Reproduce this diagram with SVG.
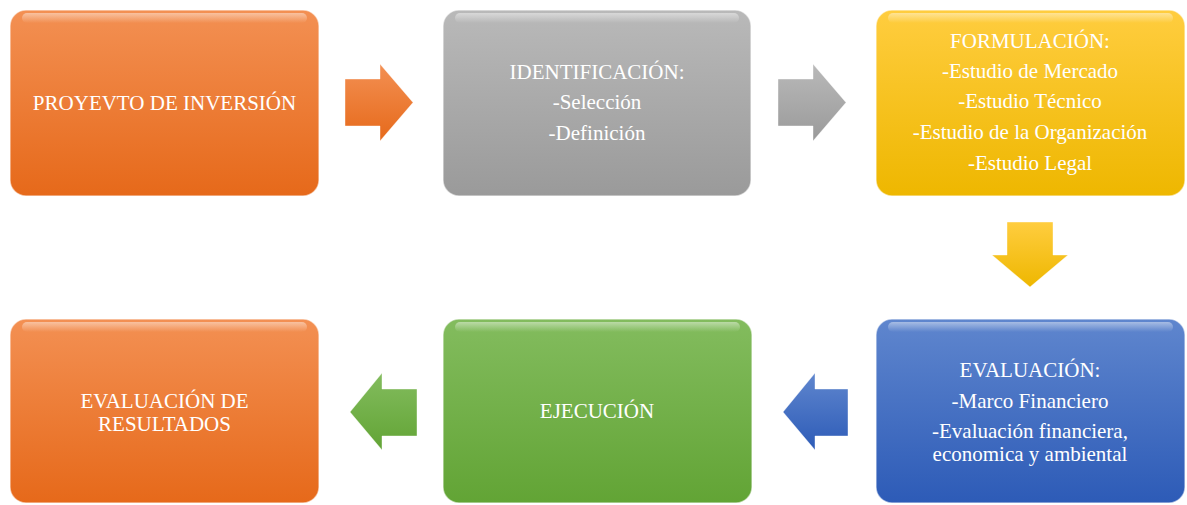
<svg xmlns="http://www.w3.org/2000/svg" width="1187" height="505" viewBox="0 0 1187 505">
<defs>
<linearGradient id="gOr" x1="0" y1="0" x2="0" y2="1"><stop offset="0" stop-color="#F39053"/><stop offset="1" stop-color="#E6691A"/></linearGradient>
<linearGradient id="gGr" x1="0" y1="0" x2="0" y2="1"><stop offset="0" stop-color="#B9B9B9"/><stop offset="1" stop-color="#9A9A9A"/></linearGradient>
<linearGradient id="gYe" x1="0" y1="0" x2="0" y2="1"><stop offset="0" stop-color="#FFCD3F"/><stop offset="1" stop-color="#EEB700"/></linearGradient>
<linearGradient id="gBl" x1="0" y1="0" x2="0" y2="1"><stop offset="0" stop-color="#5F86CE"/><stop offset="1" stop-color="#2D5BB7"/></linearGradient>
<linearGradient id="gGn" x1="0" y1="0" x2="0" y2="1"><stop offset="0" stop-color="#83BC5E"/><stop offset="1" stop-color="#62A435"/></linearGradient>
<linearGradient id="gloss" x1="0" y1="0" x2="0" y2="1"><stop offset="0" stop-color="#fff" stop-opacity="0.45"/><stop offset="1" stop-color="#fff" stop-opacity="0"/></linearGradient>
</defs>
<style>
.box{stroke:#ffffff;stroke-opacity:0.55;stroke-width:1.5}
.gl{fill:url(#gloss)}
.t{font-family:"Liberation Serif","Times New Roman",serif;font-size:21px;fill:#ffffff;text-anchor:middle}
.arr{stroke:#ffffff;stroke-opacity:0.4;stroke-width:1}
</style>
<g id="n1">
<rect class="box" x="10" y="10" width="309" height="186" rx="16" fill="url(#gOr)"/>
<rect class="gl" x="22" y="13" width="285" height="10" rx="5"/>
<text class="t" x="164.5" y="110">PROYEVTO DE INVERSIÓN</text>
</g>
<g id="n2">
<rect class="box" x="443" y="10" width="308" height="186" rx="16" fill="url(#gGr)"/>
<rect class="gl" x="455" y="13" width="284" height="10" rx="5"/>
<text class="t" x="597" y="79">IDENTIFICACIÓN:</text>
<text class="t" x="597" y="109">-Selección</text>
<text class="t" x="597" y="140">-Definición</text>
</g>
<g id="n3">
<rect class="box" x="876" y="10" width="309" height="186" rx="16" fill="url(#gYe)"/>
<rect class="gl" x="888" y="13" width="285" height="10" rx="5"/>
<text class="t" x="1030" y="48">FORMULACIÓN:</text>
<text class="t" x="1030" y="78">-Estudio de Mercado</text>
<text class="t" x="1030" y="108">-Estudio Técnico</text>
<text class="t" x="1030" y="139">-Estudio de la Organización</text>
<text class="t" x="1030" y="170">-Estudio Legal</text>
</g>
<g id="n4">
<rect class="box" x="876" y="319" width="309" height="184" rx="16" fill="url(#gBl)"/>
<rect class="gl" x="888" y="322" width="285" height="10" rx="5"/>
<text class="t" x="1030" y="377">EVALUACIÓN:</text>
<text class="t" x="1030" y="408">-Marco Financiero</text>
<text class="t" x="1030" y="438">-Evaluación financiera,</text>
<text class="t" x="1030" y="461">economica y ambiental</text>
</g>
<g id="n5">
<rect class="box" x="443" y="319" width="309" height="184" rx="16" fill="url(#gGn)"/>
<rect class="gl" x="455" y="322" width="285" height="10" rx="5"/>
<text class="t" x="597" y="418">EJECUCIÓN</text>
</g>
<g id="n6">
<rect class="box" x="10" y="319" width="309" height="184" rx="16" fill="url(#gOr)"/>
<rect class="gl" x="22" y="322" width="285" height="10" rx="5"/>
<text class="t" x="164.5" y="408">EVALUACIÓN DE</text>
<text class="t" x="164.5" y="431">RESULTADOS</text>
</g>
<g id="connectors">
<polygon class="arr" fill="url(#gOr)" points="345,79 380,79 380,64 413,102.5 380,141 380,126 345,126"/>
<polygon class="arr" fill="url(#gGr)" points="778,79 813,79 813,64 846,102.5 813,141 813,126 778,126"/>
<polygon class="arr" fill="url(#gYe)" points="1007,222 1053,222 1053,255 1068,255 1030,287 992,255 1007,255"/>
<polygon class="arr" fill="url(#gBl)" points="848,389 815,389 815,373 783,412 815,450 815,436 848,436"/>
<polygon class="arr" fill="url(#gGn)" points="417,389 382,389 382,373 350,412 382,450 382,436 417,436"/>
</g>
</svg>
